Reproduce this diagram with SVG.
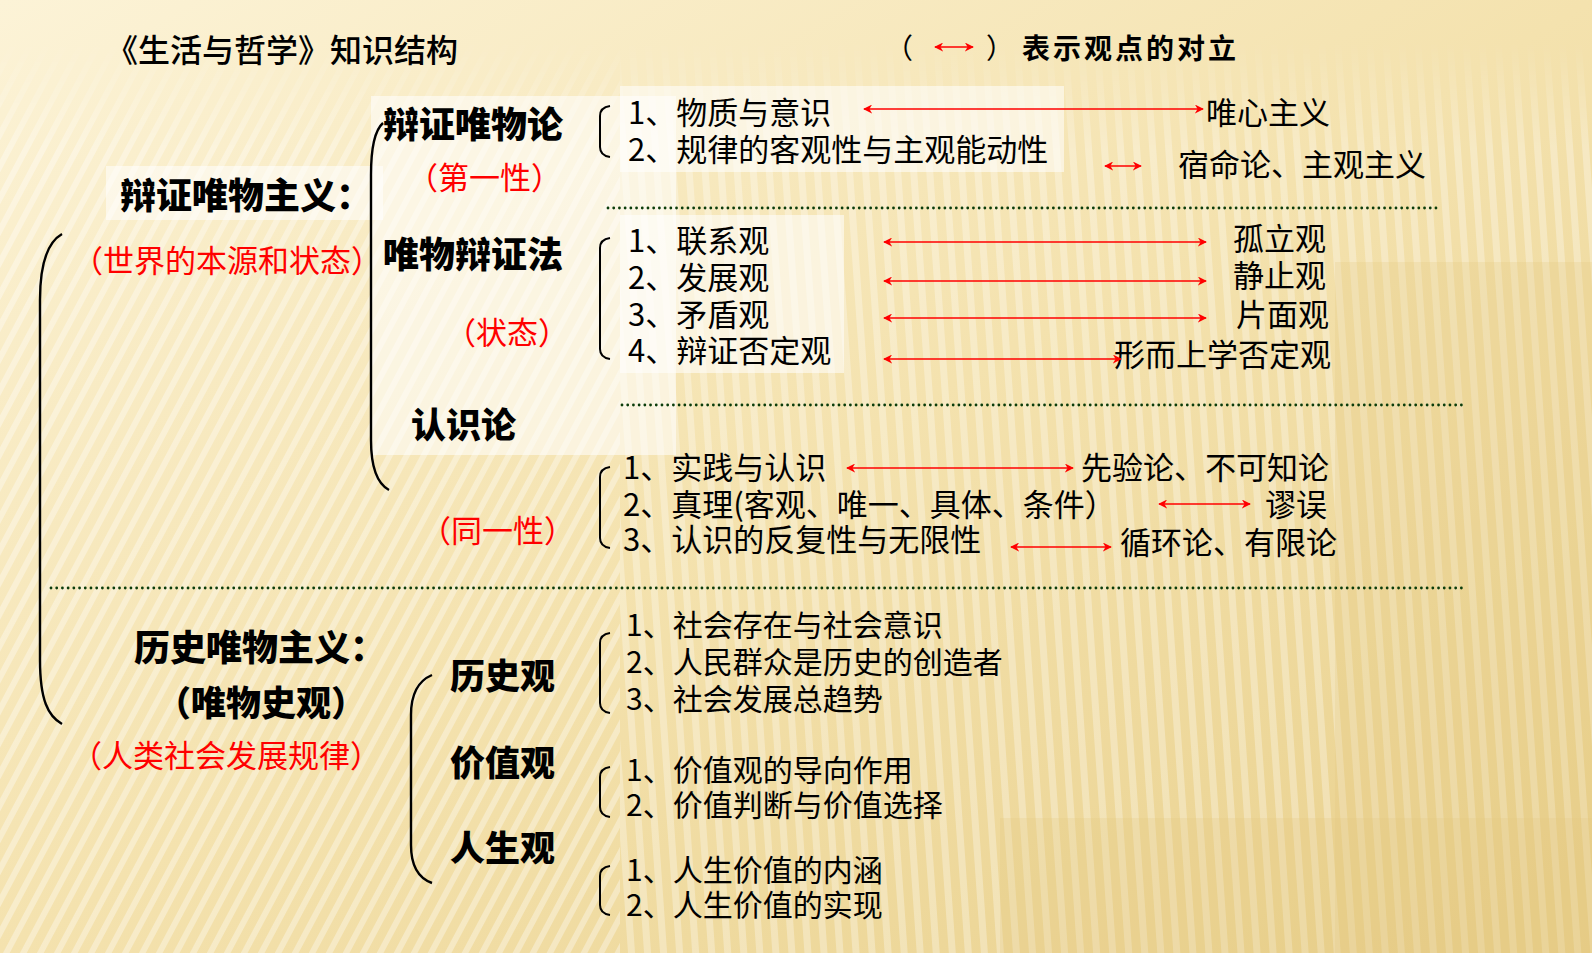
<svg xmlns="http://www.w3.org/2000/svg" width="1592" height="953" viewBox="0 0 1592 953">
<style>
text{font-family:"Noto Sans CJK SC","Noto Sans CJK TC",sans-serif;dominant-baseline:central;fill:#000}
.h{font-size:36px;font-weight:900}
.hm{font-size:35px;font-weight:900}
.r{font-size:31px;fill:#FF0000}
.t{font-size:31px}
.u{font-size:30px}
.br{fill:none;stroke:#000;stroke-width:2.4}
.sb{fill:none;stroke:#000;stroke-width:2}
.ar{stroke:#FF0000;stroke-width:1.6;fill:none;marker-start:url(#ah);marker-end:url(#ah)}
.dot{stroke:#0B3D0B;stroke-width:2.8;stroke-linecap:round;stroke-dasharray:0.01 5.7;fill:none}
.pn{fill:#FFFFFF;fill-opacity:0.55}
</style>
<defs>
<linearGradient id="bg" x1="0" y1="0" x2="1" y2="1">
<stop offset="0" stop-color="#FCF3D7"/>
<stop offset="0.5" stop-color="#F4E2AE"/>
<stop offset="1" stop-color="#E8CF8A"/>
</linearGradient>
<linearGradient id="fade" x1="0" y1="0" x2="0" y2="1">
<stop offset="0" stop-color="#fff" stop-opacity="0"/>
<stop offset="0.12" stop-color="#fff" stop-opacity="1"/>
<stop offset="1" stop-color="#fff" stop-opacity="1"/>
</linearGradient>
<mask id="m1"><rect x="0" y="40" width="1592" height="913" fill="url(#fade)"/></mask>
<pattern id="s1" width="15" height="15" patternUnits="userSpaceOnUse" patternTransform="rotate(28)">
<rect x="0" y="0" width="6" height="15" fill="#FFFFFF" fill-opacity="0.35"/>
</pattern>
<pattern id="s2" width="16" height="16" patternUnits="userSpaceOnUse" patternTransform="rotate(-4)">
<rect x="0" y="0" width="7" height="16" fill="#FFFFFF" fill-opacity="0.3"/>
</pattern>
<marker id="ah" viewBox="0 0 10 10" refX="9" refY="5" markerWidth="9" markerHeight="9" markerUnits="userSpaceOnUse" orient="auto-start-reverse">
<path d="M0,0 L10,5 L0,10 L3,5 Z" fill="#FF0000"/>
</marker>
</defs>

<g id="background">
<rect x="0" y="0" width="1592" height="953" fill="url(#bg)"/>
<g mask="url(#m1)">
<rect x="0" y="40" width="620" height="913" fill="url(#s1)"/>
<rect x="620" y="40" width="972" height="913" fill="url(#s2)"/>
</g>
<rect x="1335" y="262" width="257" height="691" fill="#E3C97F" fill-opacity="0.25"/>
<rect x="1000" y="818" width="592" height="135" fill="#E3C97F" fill-opacity="0.25"/>
<rect class="pn" x="106" y="166" width="277" height="54"/>
<rect class="pn" x="371" y="96" width="305" height="359"/>
<rect class="pn" x="620" y="86" width="444" height="86"/>
<rect class="pn" x="620" y="215" width="224" height="158"/>
</g>

<g id="title">
<text x="106" y="48" style="font-size:32px;font-weight:500">《生活与哲学》知识结构</text>
</g>

<g id="legend">
<text x="885" y="47" style="font-size:28px">（</text>
<text x="986" y="47" style="font-size:28px">）</text>
<text x="1022" y="47" style="font-size:28px;font-weight:700" textLength="214" lengthAdjust="spacing">表示观点的对立</text>
<line class="ar" x1="935" y1="47" x2="973" y2="47"/>
</g>

<g id="brackets">
<path class="br" d="M62,234 C48,242 40,262 40,300 L40,660 C40,700 48,716 62,724"/>
<path class="br" d="M383,123 C375,130 371,145 371,175 L371,440 C371,470 378,484 389,490"/>
<path class="br" d="M432,675 C418,681 411,695 411,715 L411,845 C411,866 418,878 432,883"/>
<path class="sb" d="M610,106 C603,107 600,110 600,116 L600,147 C600,153 603,156 610,157"/>
<path class="sb" d="M610,238 C603,239 600,242 600,248 L600,349 C600,355 603,358 610,359"/>
<path class="sb" d="M610,467 C603,468 600,471 600,477 L600,538 C600,544 603,547 610,548"/>
<path class="sb" d="M610,633 C603,634 600,637 600,643 L600,703 C600,709 603,712 610,713"/>
<path class="sb" d="M610,767 C603,768 600,771 600,777 L600,807 C600,813 603,816 610,817"/>
<path class="sb" d="M610,866 C603,867 600,870 600,876 L600,905 C600,911 603,914 610,915"/>
</g>

<g id="dialectical-materialism">
<text class="h" x="120" y="193">辩证唯物主义：</text>
<text class="r" x="72" y="258">（世界的本源和状态）</text>
</g>

<g id="node-bzwwl">
<text class="h" x="383" y="122">辩证唯物论</text>
<text class="r" x="407" y="175">（第一性）</text>
<text class="t" x="628" y="110">1、物质与意识</text>
<text class="t" x="628" y="147">2、规律的客观性与主观能动性</text>
<text class="t" x="1206" y="110">唯心主义</text>
<text class="t" x="1178" y="162">宿命论、主观主义</text>
</g>

<g id="node-wwbzf">
<text class="h" x="383" y="252">唯物辩证法</text>
<text class="r" x="445" y="330">（状态）</text>
<text class="t" x="628" y="238">1、联系观</text>
<text class="t" x="628" y="275">2、发展观</text>
<text class="t" x="628" y="312">3、矛盾观</text>
<text class="t" x="628" y="348">4、辩证否定观</text>
<text class="t" x="1233" y="236">孤立观</text>
<text class="t" x="1233" y="273">静止观</text>
<text class="t" x="1236" y="312">片面观</text>
<text class="t" x="1114" y="352">形而上学否定观</text>
</g>

<g id="node-rsl">
<text class="hm" x="411" y="422">认识论</text>
<text class="r" x="420" y="528">（同一性）</text>
<text class="t" x="623" y="465">1、实践与认识</text>
<text class="t" x="623" y="502">2、真理(客观、唯一、具体、条件）</text>
<text class="t" x="623" y="537">3、认识的反复性与无限性</text>
<text class="t" x="1081" y="465">先验论、不可知论</text>
<text class="t" x="1265" y="502">谬误</text>
<text class="t" x="1120" y="540">循环论、有限论</text>
</g>

<g id="historical-materialism">
<text class="h" x="134" y="645">历史唯物主义：</text>
<text class="hm" x="156" y="700">（唯物史观）</text>
<text class="r" x="71" y="753">（人类社会发展规律）</text>
</g>

<g id="node-lsg">
<text class="hm" x="450" y="673">历史观</text>
<text class="u" x="626" y="623">1、社会存在与社会意识</text>
<text class="u" x="626" y="660">2、人民群众是历史的创造者</text>
<text class="u" x="626" y="697">3、社会发展总趋势</text>
</g>

<g id="node-jzg">
<text class="hm" x="450" y="760">价值观</text>
<text class="u" x="626" y="768">1、价值观的导向作用</text>
<text class="u" x="626" y="803">2、价值判断与价值选择</text>
</g>

<g id="node-rsg">
<text class="hm" x="450" y="845">人生观</text>
<text class="u" x="626" y="868">1、人生价值的内涵</text>
<text class="u" x="626" y="903">2、人生价值的实现</text>
</g>

<g id="connectors">
<line class="ar" x1="864" y1="109" x2="1203" y2="109"/>
<line class="ar" x1="1105" y1="166" x2="1141" y2="166"/>
<line class="ar" x1="884" y1="242" x2="1206" y2="242"/>
<line class="ar" x1="884" y1="281" x2="1206" y2="281"/>
<line class="ar" x1="884" y1="318" x2="1206" y2="318"/>
<line class="ar" x1="884" y1="359" x2="1121" y2="359"/>
<line class="ar" x1="847" y1="468" x2="1073" y2="468"/>
<line class="ar" x1="1159" y1="504" x2="1250" y2="504"/>
<line class="ar" x1="1011" y1="547" x2="1111" y2="547"/>
<line class="dot" x1="608" y1="208" x2="1439" y2="208"/>
<line class="dot" x1="622" y1="405" x2="1466" y2="405"/>
<line class="dot" x1="51" y1="588" x2="1466" y2="588"/>
</g>
</svg>
